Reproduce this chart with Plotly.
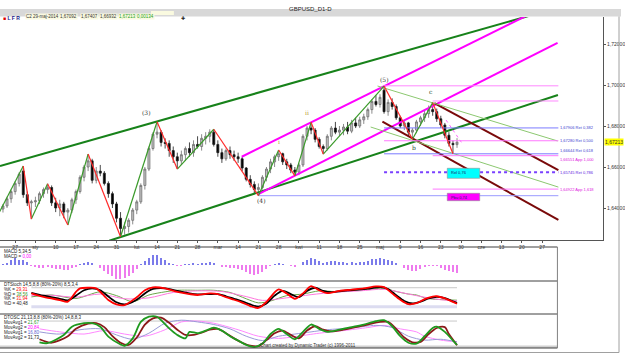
import plotly.graph_objects as go

# ---------------- data ----------------
tick_labels = ["27","sty","10","17","24","31","lut","14","21","28","mar","14","21","28",
               "kwi","11","18","25","maj","9","16","23","30","cze","13","20","27"]

opens = [
1.6395,1.6410,1.6445,1.6480,1.6520,1.6580,1.6465,1.6425,1.6430,1.6435,
1.6470,1.6490,1.6500,1.6425,1.6400,1.6420,1.6380,1.6390,1.6440,1.6480,
1.6550,1.6600,1.6630,1.6535,1.6580,1.6570,1.6520,1.6470,1.6420,1.6350,
1.6300,1.6310,1.6340,1.6390,1.6430,1.6510,1.6590,1.6690,1.6760,1.6770,
1.6720,1.6715,1.6680,1.6650,1.6630,1.6660,1.6690,1.6670,1.6710,1.6700,
1.6740,1.6750,1.6770,1.6710,1.6670,1.6640,1.6680,1.6660,1.6650,1.6640,
1.6595,1.6540,1.6515,1.6490,1.6500,1.6550,1.6590,1.6625,1.6650,1.6665,
1.6625,1.6610,1.6585,1.6575,1.6610,1.6750,1.6790,1.6780,1.6735,1.6700,
1.6690,1.6750,1.6790,1.6770,1.6780,1.6795,1.6775,1.6815,1.6800,1.6830,
1.6845,1.6880,1.6920,1.6905,1.6975,1.6870,1.6915,1.6895,1.6840,1.6800,
1.6815,1.6770,1.6780,1.6820,1.6840,1.6860,1.6880,1.6870,1.6835,1.6805,
1.6755,1.6715,1.67092]
highs = [
1.6420,1.6455,1.6490,1.6530,1.6575,1.6605,1.6480,1.6440,1.6455,1.6480,
1.6500,1.6518,1.6510,1.6450,1.6440,1.6430,1.6400,1.6450,1.6490,1.6560,
1.6610,1.6663,1.6640,1.6600,1.6610,1.6580,1.6530,1.6480,1.6430,1.6380,
1.6330,1.6350,1.6400,1.6440,1.6520,1.6600,1.6700,1.6770,1.6821,1.6780,
1.6740,1.6730,1.6700,1.6670,1.6680,1.6700,1.6720,1.6730,1.6750,1.6760,
1.6770,1.6784,1.6784,1.6730,1.6690,1.6690,1.6700,1.6680,1.6670,1.6650,
1.6600,1.6560,1.6530,1.6520,1.6560,1.6600,1.6640,1.6660,1.6683,1.6670,
1.6640,1.6620,1.6600,1.6620,1.6760,1.6800,1.6818,1.6790,1.6745,1.6710,
1.6760,1.6800,1.6820,1.6800,1.6810,1.6820,1.6830,1.6840,1.6845,1.6860,
1.6890,1.6930,1.6950,1.6955,1.6995,1.6930,1.6935,1.6905,1.6850,1.6830,
1.6820,1.6790,1.6830,1.6850,1.6880,1.6900,1.6914,1.6885,1.6850,1.6815,
1.6770,1.6730,1.67407]
lows = [
1.6378,1.6400,1.6425,1.6465,1.6505,1.6450,1.6410,1.6346,1.6405,1.6420,
1.6450,1.6470,1.6410,1.6380,1.6360,1.6350,1.6317,1.6375,1.6420,1.6470,
1.6530,1.6580,1.6520,1.6520,1.6555,1.6510,1.6450,1.6400,1.6330,1.6260,
1.6270,1.6280,1.6320,1.6370,1.6420,1.6490,1.6580,1.6680,1.6740,1.6700,
1.6690,1.6650,1.6620,1.6590,1.6610,1.6630,1.6650,1.6650,1.6690,1.6680,
1.6710,1.6720,1.6700,1.6650,1.6620,1.6630,1.6640,1.6630,1.6620,1.6580,
1.6530,1.6500,1.6470,1.6460,1.6490,1.6530,1.6570,1.6600,1.6630,1.6610,
1.6590,1.6570,1.6557,1.6560,1.6600,1.6730,1.6760,1.6720,1.6690,1.6663,
1.6680,1.6730,1.6760,1.6750,1.6755,1.6760,1.6765,1.6790,1.6790,1.6810,
1.6830,1.6860,1.6895,1.6890,1.6860,1.6850,1.6880,1.6830,1.6790,1.6780,
1.6750,1.6735,1.6765,1.6800,1.6820,1.6840,1.6850,1.6820,1.6790,1.6740,
1.6700,1.6665,1.66932]
closes = [
1.6410,1.6445,1.6480,1.6520,1.6565,1.6465,1.6425,1.6430,1.6435,1.6470,
1.6490,1.6500,1.6425,1.6400,1.6420,1.6380,1.6390,1.6440,1.6480,1.6550,
1.6600,1.6630,1.6535,1.6580,1.6570,1.6520,1.6470,1.6420,1.6350,1.6300,
1.6310,1.6340,1.6390,1.6430,1.6510,1.6590,1.6690,1.6760,1.6770,1.6720,
1.6715,1.6680,1.6650,1.6630,1.6660,1.6690,1.6670,1.6710,1.6700,1.6740,
1.6750,1.6770,1.6710,1.6670,1.6640,1.6680,1.6660,1.6650,1.6640,1.6595,
1.6540,1.6515,1.6490,1.6500,1.6550,1.6590,1.6625,1.6650,1.6665,1.6625,
1.6610,1.6585,1.6575,1.6610,1.6750,1.6790,1.6780,1.6735,1.6700,1.6690,
1.6750,1.6790,1.6770,1.6780,1.6795,1.6775,1.6815,1.6800,1.6830,1.6845,
1.6880,1.6920,1.6905,1.6940,1.6870,1.6915,1.6895,1.6840,1.6800,1.6815,
1.6770,1.6780,1.6820,1.6840,1.6860,1.6880,1.6870,1.6835,1.6805,1.6755,
1.6715,1.6709,1.67213]

price_ticks = [1.64, 1.66, 1.68, 1.70, 1.72]
price_tick_labels = ["1,64000", "1,66000", "1,68000", "1,70000", "1,72000"]
last_price = 1.67213

# zigzag pivots (bar index, price)
zz_i = [-1, 5, 7, 11, 16, 21, 29, 38, 43, 52, 63, 68, 72, 76, 79, 94, 101, 106, 111]
zz_p = [1.6375, 1.6605, 1.6346, 1.6518, 1.6317, 1.6663, 1.6260, 1.6821, 1.6590, 1.6784,
        1.6460, 1.6683, 1.6557, 1.6818, 1.6663, 1.6995, 1.6735, 1.6914, 1.6665]

# trend lines: (i0, p0, i1, p1, colour, width, dash)
trend_lines = [
    (-0.74, 1.6605, 136.5, 1.7375, "#17821a", 2, "solid"),
    (26.2, 1.6240, 136.9, 1.6951, "#17821a", 2, "solid"),
    (58.9, 1.6650, 131.6, 1.7362, "#ff00ff", 2, "solid"),
    (63.0, 1.6468, 136.8, 1.7205, "#ff00ff", 2, "solid"),
    (106.4, 1.6912, 137.0, 1.6585, "#7a0a0a", 2, "solid"),
    (93.6, 1.6821, 137.0, 1.6342, "#7a0a0a", 2, "solid"),
    (92.4, 1.6995, 136.8, 1.6727, "#8cc870", 1, "solid"),
    (90.7, 1.6795, 137.0, 1.6502, "#8cc870", 1, "solid"),
    (109.3, 1.6829, 113.2, 1.6717, "#ff66ff", 1, "dot"),
]

# horizontal levels: (price, start index, colour, width, dash, label, label colour, label anchor)
levels = [
    (1.6996, 94, "#ff88ff", 1, "solid", "", "", "middle"),
    (1.6922, 106, "#ff88ff", 1, "solid", "", "", "middle"),
    (1.67906, 94, "#7b7bff", 1, "solid", "1,67906 Ret 0,382", "#4040d0", "middle"),
    (1.67280, 94, "#ff77ff", 1, "solid", "1,67280 Ret 0,500", "#4040d0", "middle"),
    (1.66644, 94, "#7b7bff", 1, "solid", "1,66644 Ret 0,618", "#4040d0", "bottom"),
    (1.66551, 106, "#ff77ff", 1, "solid", "1,66551 App 1,000", "#e020e0", "top"),
    (1.65745, 94, "#7a40ff", 2, "dot", "1,65745 Ret 0,786", "#6020e0", "middle"),
    (1.64922, 106, "#ff77ff", 1, "solid", "1,64922 App 1,618", "#e020e0", "middle"),
    (1.6460, 63, "#9a9aff", 1, "solid", "", "", "middle"),
]
level_end = 137.0

# time/price boxes: (i0, i1, p_low, p_high, fill, text)
boxes = [
    (109.6, 117.6, 1.65449, 1.65937, "#00ffff", "Rel 0,76"),
    (109.6, 117.6, 1.64356, 1.64717, "#ff00ff", "Pbu 0,74"),
]

# wave labels: (bar index, price, text, colour)
wave_labels = [
    (35.5, 1.6868, "(3)", "#333333"),
    (63.7, 1.6439, "(4)", "#333333"),
    (94.1, 1.7029, "(5)", "#333333"),
    (68.1, 1.6722, "i", "#b89a30"),
    (75.0, 1.6868, "ii", "#b89a30"),
    (101.5, 1.6693, "b", "#1f4f2f"),
    (105.6, 1.6966, "c", "#1f4f2f"),
]

macd = [
0.0002,0.0006,0.0020,0.0027,0.0022,0.0020,0.0013,-0.0004,-0.0008,-0.0012,
-0.0010,-0.0006,-0.0010,-0.0014,-0.0016,-0.0018,-0.0020,-0.0012,-0.0006,0.0002,
0.0008,0.0012,0.0006,0.0000,-0.0010,-0.0022,-0.0034,-0.0044,-0.0054,-0.0056,
-0.0052,-0.0044,-0.0030,-0.0014,0.0004,0.0018,0.0030,0.0040,0.0040,0.0030,
0.0020,0.0010,0.0004,-0.0004,-0.0002,0.0004,0.0002,0.0006,0.0004,0.0008,
0.0010,0.0012,0.0008,0.0000,-0.0008,-0.0008,-0.0010,-0.0012,-0.0014,-0.0020,
-0.0028,-0.0034,-0.0038,-0.0036,-0.0026,-0.0014,-0.0004,0.0004,0.0008,0.0004,
0.0000,-0.0004,-0.0006,0.0000,0.0012,0.0022,0.0028,0.0024,0.0016,0.0010,
0.0014,0.0018,0.0016,0.0014,0.0014,0.0010,0.0012,0.0010,0.0012,0.0014,
0.0018,0.0024,0.0026,0.0030,0.0026,0.0022,0.0016,0.0008,0.0000,-0.0010,
-0.0018,-0.0024,-0.0022,-0.0014,-0.0008,-0.0004,-0.0002,-0.0004,-0.0010,-0.0018,
-0.0024,-0.0028,-0.0030]

st_red_i = [7,10,14,16,18,19,21,23,26,28,30,33,35,37,40,43,46,48,51,53,55,57,59,61,63,65,67,68,70,72,
            74,76,78,80,83,86,89,92,94,96,98,100,102,104,106,107,109,111,112]
st_red_v = [62,51,41,36,67,78,80,78,41,27,25,50,72,81,78,67,60,57,62,60,50,42,33,22,16,35,65,75,62,45,
            62,85,72,63,70,74,78,84,82,62,42,28,31,44,52,53,46,35,29.31]
st_blk_i = [7,10,14,16,18,20,22,24,26,28,30,33,35,37,40,43,46,48,51,53,55,57,59,61,63,65,67,69,71,73,
            75,77,79,81,84,87,90,93,95,97,99,101,103,105,107,109,111,112]
st_blk_v = [64,55,45,40,55,72,78,72,52,34,27,42,62,76,78,70,62,59,60,60,53,45,37,27,20,30,55,70,60,50,
            70,80,70,66,70,73,77,82,76,56,38,30,36,46,51,47,37,31.94]
st_grn_i = [7,12,18,24,28,32,36,40,43,48,52,56,60,63,66,70,74,78,82,86,90,94,97,100,102,104,106,109,112]
st_grn_v = [51,57,46,67,55,36,57,67,72,72,72,65,45,32,38,55,60,70,68,72,75,78,68,60,57,48,44,42,40.48]
st_pnk_i = [7,12,18,24,30,36,42,48,54,60,64,70,76,82,88,94,100,104,108,112]
st_pnk_v = [55,56,50,60,45,48,65,70,68,52,40,48,58,66,70,75,60,50,42,38.56]

os_grn_i = [9,11,15,17,20,22,24,26,29,30,32,34,36,38,39,41,43,45,46,48,50,52,54,56,58,60,62,64,66,68,
            70,72,74,76,78,80,83,86,89,92,94,96,98,100,102,104,106,107,109,111,112]
os_grn_v = [31,29,48,67,75,75,67,44,26,23,40,78,90,90,82,63,48,40,55,52,58,65,58,45,35,25,20,28,50,62,
            50,38,55,72,62,55,60,66,72,80,82,68,45,30,28,45,64,67,55,35,25]
os_mar_i = [9,12,16,18,21,23,25,27,29,31,33,35,37,39,41,43,45,47,49,51,53,55,57,59,61,63,65,67,69,71,
            73,75,77,79,81,84,87,90,93,95,97,99,101,103,105,107,109,110,112]
os_mar_v = [38,30,45,62,74,75,66,45,30,25,42,72,86,88,76,60,48,48,53,60,62,52,40,30,23,22,36,52,58,48,
            40,58,68,60,56,60,66,72,78,78,62,42,31,32,50,64,66,50,24]
os_lav_i = [9,14,19,24,28,32,36,40,44,48,52,56,60,64,68,72,76,80,86,92,96,100,104,108,112]
os_lav_v = [55,50,60,62,48,38,52,75,82,78,72,62,45,35,45,50,55,60,64,70,65,45,36,38,32]
os_pnk_i = [9,14,20,25,30,35,40,44,48,52,58,63,68,72,78,84,90,94,98,102,104,108,112]
os_pnk_v = [62,55,50,58,50,45,60,78,80,75,60,45,40,44,52,58,65,70,62,55,45,36,32]

# ---------------- layout helpers ----------------
W, H = 625, 354
PXB, X0 = 4.08, 3.0          # pixels per bar, pixel of bar 0
def px(x): return x / W
def py(y): return 1 - y / H
FONT = "Liberation Sans, Arial, sans-serif"

n = len(closes)
bars = list(range(n))
tick_idx = [3 + 5 * k for k in range(len(tick_labels))]

fig = go.Figure()

fig.add_trace(go.Candlestick(
    x=bars, open=opens, high=highs, low=lows, close=closes,
    increasing=dict(fillcolor="#c4c4c4", line=dict(color="#6e6e6e", width=0.8)),
    decreasing=dict(fillcolor="#000000", line=dict(color="#1a1a1a", width=0.8)),
    whiskerwidth=0, showlegend=False, hoverinfo="skip", xaxis="x", yaxis="y"))

# trend lines
for (i0, p0, i1, p1, col, w, dash) in trend_lines:
    fig.add_trace(go.Scatter(x=[i0, i1], y=[p0, p1], mode="lines",
                             line=dict(color=col, width=w, dash=dash),
                             showlegend=False, hoverinfo="skip", xaxis="x", yaxis="y"))

# horizontal levels
for (p, s, col, w, dash, lab, lcol, anc) in levels:
    fig.add_trace(go.Scatter(x=[s, level_end], y=[p, p], mode="lines",
                             line=dict(color=col, width=w, dash=dash),
                             showlegend=False, hoverinfo="skip", xaxis="x", yaxis="y"))

# zigzag
ux, uy, dx, dy = [], [], [], []
for k in range(len(zz_i) - 1):
    if zz_p[k + 1] > zz_p[k]:
        ux += [zz_i[k], zz_i[k + 1], None]; uy += [zz_p[k], zz_p[k + 1], None]
    else:
        dx += [zz_i[k], zz_i[k + 1], None]; dy += [zz_p[k], zz_p[k + 1], None]
fig.add_trace(go.Scatter(x=ux, y=uy, mode="lines", line=dict(color="#3a9a2a", width=1.2),
                         showlegend=False, hoverinfo="skip", xaxis="x", yaxis="y"))
fig.add_trace(go.Scatter(x=dx, y=dy, mode="lines", line=dict(color="#ff2a2a", width=1.2),
                         showlegend=False, hoverinfo="skip", xaxis="x", yaxis="y"))

# MACD histogram
fig.add_trace(go.Bar(x=bars, y=macd, width=0.28,
                     marker=dict(color=["#7b7bea" if v >= 0 else "#ee7bee" for v in macd], line=dict(width=0)),
                     showlegend=False, hoverinfo="skip", xaxis="x2", yaxis="y2"))

def line(xs, ys, col, w, ax, ay, shape="spline"):
    fig.add_trace(go.Scatter(x=xs, y=ys, mode="lines", line=dict(color=col, width=w, shape=shape, smoothing=0.8),
                             showlegend=False, hoverinfo="skip", xaxis=ax, yaxis=ay))

# DTStoch
line([7, 112], [80, 80], "#c8c8c8", 1, "x3", "y3", "linear")
line([7, 112], [20, 20], "#dcdcf0", 3, "x3", "y3", "linear")
line(st_grn_i, st_grn_v, "#6aa84a", 1, "x3", "y3")
line(st_pnk_i, st_pnk_v, "#ff77dd", 1, "x3", "y3")
line(st_blk_i, st_blk_v, "#000000", 1.8, "x3", "y3")
line(st_red_i, st_red_v, "#ff0000", 1.8, "x3", "y3")

# DTOSC
line([9, 112], [80, 80], "#c8c8c8", 1, "x4", "y4", "linear")
line(os_pnk_i, os_pnk_v, "#ff88ff", 1, "x4", "y4")
line(os_lav_i, os_lav_v, "#9a9ad8", 1, "x4", "y4")
line(os_mar_i, os_mar_v, "#8b1a1a", 1.8, "x4", "y4")
line(os_grn_i, os_grn_v, "#1f9a1f", 1.8, "x4", "y4")

shapes = []
annotations = []

# boxes
for (i0, i1, pl, ph, col, txt_) in boxes:
    shapes.append(dict(type="rect", xref="x", yref="y", x0=i0, x1=i1, y0=pl, y1=ph,
                       fillcolor=col, line=dict(color="#909090", width=0.6), layer="above"))
    annotations.append(dict(xref="x", yref="y", x=i0 + 0.3, y=ph, text=txt_, showarrow=False,
                            xanchor="left", yanchor="top", font=dict(size=4, color="#202060", family=FONT)))

# level labels
for (p, s, col, w, dash, lab, lcol, anc) in levels:
    if lab:
        annotations.append(dict(xref="x", yref="y", x=level_end + 0.2, y=p, text=lab, showarrow=False,
                                xanchor="left", yanchor=anc, borderpad=0,
                                font=dict(size=4, color=lcol, family=FONT)))

# wave labels
for (i, p, t, c) in wave_labels:
    annotations.append(dict(xref="x", yref="y", x=i, y=p, text=t, showarrow=False,
                            font=dict(size=6, color=c, family="DejaVu Serif, serif")))

# current price flag
annotations.append(dict(xref="paper", yref="y", x=px(608), y=last_price,
                        text=f"{last_price:.5f}".replace(".", ","), showarrow=False,
                        xanchor="left", yanchor="middle", bgcolor="#ffff00", borderpad=0,
                        font=dict(size=5, color="#333333", family=FONT)))

# header
shapes.append(dict(type="rect", xref="paper", yref="paper", x0=0, x1=1, y0=py(16.5), y1=py(9),
                   fillcolor="#d8d8d8", line=dict(width=0), layer="below"))
annotations.append(dict(xref="paper", yref="paper", x=px(313), y=py(4.5), text="GBPUSD_D1-D",
                        showarrow=False, font=dict(size=6, color="#222222", family=FONT)))
annotations.append(dict(xref="paper", yref="paper", x=px(1), y=py(13), text="<b><span style='color:#e00000'>■</span> L F R</b>",
                        showarrow=False, xanchor="left", font=dict(size=5, color="#1a1a8a", family=FONT)))
header_items = [(25, "C2 29-maj-2014", "#333333"), (59, "1,67092", "#333333"), (81, "1,67407", "#333333"),
                (100, "1,66932", "#333333"), (119, "1,67213", "#20a020"), (137, "0,00134", "#20a020")]
for (x, t, c) in header_items:
    annotations.append(dict(xref="paper", yref="paper", x=px(x), y=py(13), text=t, showarrow=False,
                            xanchor="left", bgcolor="#fafae0", borderpad=0,
                            font=dict(size=4.5, color=c, family=FONT)))
shapes.append(dict(type="rect", xref="paper", yref="paper", x0=px(152), x1=px(175), y0=py(15), y1=py(11),
                   fillcolor="#fafae0", line=dict(width=0)))
annotations.append(dict(xref="paper", yref="paper", x=px(180), y=py(13), text="✚", showarrow=False,
                        font=dict(size=5, color="#222222", family=FONT)))

# sub-panel frames
for yy in [247, 281, 314, 348]:
    shapes.append(dict(type="line", xref="paper", yref="paper", x0=0, x1=px(561), y0=py(yy), y1=py(yy),
                       line=dict(color="#404040", width=1)))
shapes.append(dict(type="line", xref="paper", yref="paper", x0=px(561), x1=px(561), y0=py(247), y1=py(348),
                   line=dict(color="#808080", width=1)))
shapes.append(dict(type="rect", xref="paper", yref="paper", x0=0, x1=px(561), y0=py(348), y1=py(345.5),
                   fillcolor="#d0d0d0", line=dict(width=0), layer="below"))
# outer frame
shapes.append(dict(type="line", xref="paper", yref="paper", x0=px(623), x1=px(623), y0=py(352.5), y1=py(16.5),
                   line=dict(color="#a0a0a0", width=1)))
shapes.append(dict(type="line", xref="paper", yref="paper", x0=0, x1=px(623), y0=py(352.5), y1=py(352.5),
                   line=dict(color="#a0a0a0", width=1)))

# sub-panel texts
def txt(x, y, t, size=4.5, color="#222222"):
    annotations.append(dict(xref="paper", yref="paper", x=px(x), y=py(y), text=t, showarrow=False,
                            xanchor="left", yanchor="middle", borderpad=0,
                            font=dict(size=size, color=color, family=FONT)))
txt(3, 251.3, "MACD 5,34,5")
txt(3, 256.3, "MACD = <span style='color:#ff00ff'>0,00</span>")
txt(3, 284.5, "DTStoch 14,5,8,8 (80%-20%) 8,5,3,4")
txt(3, 289.3, "%K = <span style='color:#ff0000'>29,31</span>")
txt(3, 294.1, "%D = <span style='color:#3a9a2a'>38,56</span>")
txt(3, 298.9, "%K = <span style='color:#ff0000'>31,94</span>")
txt(3, 303.7, "%D = 40,48")
txt(3, 317.8, "DTOSC 21,13,8,8 (80%-20%) 14,8,8,3")
txt(3, 322.6, "MovAvg1 = <span style='color:#1f9a1f'>21,67</span>")
txt(3, 327.4, "MovAvg2 = <span style='color:#ff00ff'>20,84</span>")
txt(3, 332.2, "MovAvg1 = <span style='color:#6060d0'>16,80</span>")
txt(3, 337.0, "MovAvg2 = 31,73")
annotations.append(dict(xref="paper", yref="paper", x=px(310), y=py(350.3),
                        text="Chart created by Dynamic Trader (c) 1996-2011", showarrow=False,
                        font=dict(size=4.5, color="#333333", family=FONT)))

xr_main = [(0 - X0) / PXB, (607 - X0) / PXB]
xr_sub = [(0 - X0) / PXB, (561 - X0) / PXB]
kp = 0.02 / 41.0
yr_main = [1.70 - (240 - 85) * kp, 1.70 + (85 - 17) * kp]

hidden = dict(visible=False, showgrid=False, zeroline=False, fixedrange=True)
fig.update_layout(
    width=W, height=H, margin=dict(l=0, r=0, t=0, b=0),
    paper_bgcolor="white", plot_bgcolor="white", showlegend=False, bargap=0,
    font=dict(family=FONT),
    xaxis=dict(domain=[0, px(607)], range=xr_main, anchor="y", tickvals=tick_idx, ticktext=tick_labels,
               tickfont=dict(size=5, color="#333333"), ticks="outside", ticklen=2, tickcolor="#555555",
               showline=True, linecolor="#555555", linewidth=1, showgrid=False, zeroline=False,
               rangeslider=dict(visible=False), fixedrange=True),
    yaxis=dict(domain=[py(240), py(17)], range=yr_main, anchor="x", side="right",
               tickvals=price_ticks, ticktext=price_tick_labels, tickfont=dict(size=5, color="#333333"),
               ticks="outside", ticklen=2, tickcolor="#555555", showline=True, linecolor="#555555",
               linewidth=1, showgrid=False, zeroline=False, fixedrange=True),
    xaxis2=dict(domain=[0, px(561)], range=xr_sub, anchor="y2", **hidden),
    yaxis2=dict(domain=[py(281), py(247)], range=[-0.0064, 0.0072], anchor="x2", **hidden),
    xaxis3=dict(domain=[0, px(561)], range=xr_sub, anchor="y3", **hidden),
    yaxis3=dict(domain=[py(314), py(281)], range=[-3.2, 101.3], anchor="x3", **hidden),
    xaxis4=dict(domain=[0, px(561)], range=xr_sub, anchor="y4", **hidden),
    yaxis4=dict(domain=[py(348), py(314)], range=[17.8, 96.3], anchor="x4", **hidden),
    shapes=shapes, annotations=annotations,
)

fig.write_html("out.html")
